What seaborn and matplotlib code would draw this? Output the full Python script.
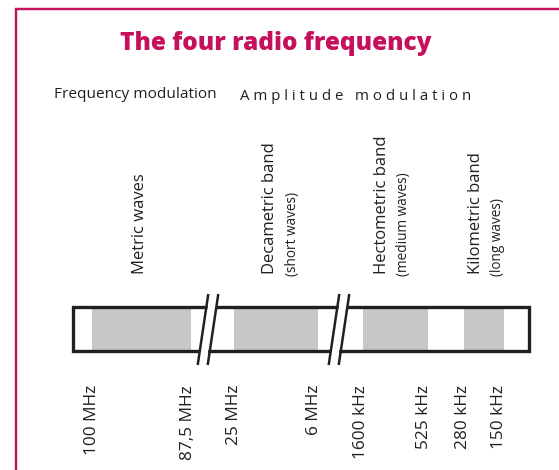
import matplotlib
matplotlib.use("Agg")
import matplotlib.pyplot as plt
import seaborn as sns
from matplotlib.patches import Rectangle, Polygon

# ---------------- data ----------------
title = "The four radio frequency"
modulation_labels = ["Frequency modulation", "Amplitude modulation"]
band_names = ["Metric waves", "Decametric band", "Hectometric band", "Kilometric band"]
band_notes = ["", "(short waves)", "(medium waves)", "(long waves)"]
band_start = [92, 234, 363, 464]
band_end = [191, 318, 428, 504]
band_label_pos = [139.5, 270.5, 382, 475.5]
freq_labels = ["100 MHz", "87,5 MHz", "25 MHz", "6 MHz",
               "1600 kHz", "525 kHz", "280 kHz", "150 kHz"]
freq_pos = [92, 188, 234, 314, 361, 424, 463, 499]
scale_extent = [73.3, 529.3]
break_pos = [208, 339]

# ---------------- style ----------------
sns.set_theme(style="white")
plt.rcParams["font.family"] = ["Open Sans", "DejaVu Sans"]
CRIMSON = "#C7105B"
DARK = "#231F20"
GREY = "#C6C7C9"

fig = plt.figure(figsize=(5.59, 4.70), dpi=100)
ax = fig.add_axes([0, 0, 1, 1])
ax.set_xlim(0, 559)
ax.set_ylim(470, 0)
ax.axis("off")

# frame
ax.plot([16.2, 16.2, 559], [470, 9.3, 9.3], color=CRIMSON, lw=1.75,
        solid_joinstyle="miter", solid_capstyle="butt")

# title
ax.text(276, 50, title, ha="center", va="baseline", color=CRIMSON,
        fontsize=17.6, fontweight="heavy")

# modulation headings
ax.text(54, 98.5, modulation_labels[0], ha="left", va="baseline",
        color=DARK, fontsize=11.1)
spaced = "   ".join(" ".join(w) for w in modulation_labels[1].split())
ax.text(240, 100, spaced, ha="left", va="baseline", color=DARK, fontsize=10.8)

# bar scale
y_top, y_bot = 306.7, 350.7
bar_y = (y_top + y_bot) / 2
bar_h = y_bot - y_top
ax.barh([bar_y] * len(band_start),
        [e - s for s, e in zip(band_start, band_end)],
        left=band_start, height=bar_h, color=GREY, edgecolor="none", zorder=1)
ax.add_patch(Rectangle((scale_extent[0], y_top), scale_extent[1] - scale_extent[0],
                       bar_h, fill=False, edgecolor=DARK, lw=2.4, zorder=2))

# break marks
dx_top, dx_bot = 5.3, -5.3
for b in break_pos:
    g = 10
    poly = Polygon([(b + dx_top - g / 2 + 1, 298), (b + dx_top + g / 2 - 1, 298),
                    (b + dx_bot + g / 2 - 1, 360), (b + dx_bot - g / 2 + 1, 360)],
                   closed=True, facecolor="white", edgecolor="none", zorder=3)
    ax.add_patch(poly)
    for off in (-g / 2, g / 2):
        ax.plot([b + dx_top + off, b + dx_bot + off], [294, 365],
                color=DARK, lw=1.8, zorder=4, solid_capstyle="butt")

# band labels
for x, name, note in zip(band_label_pos, band_names, band_notes):
    ax.text(x, 274, name, rotation=90, ha="center", va="bottom",
            color=DARK, fontsize=12)
    if note:
        ax.text(x + 22, 275.5, note, rotation=90, ha="center", va="bottom",
                color=DARK, fontsize=9.8)

# frequency tick labels
for x, lab in zip(freq_pos, freq_labels):
    ax.text(x, 385, lab, rotation=90, ha="center", va="top",
            color=DARK, fontsize=12.4)

fig.savefig("out.png", dpi=100)
